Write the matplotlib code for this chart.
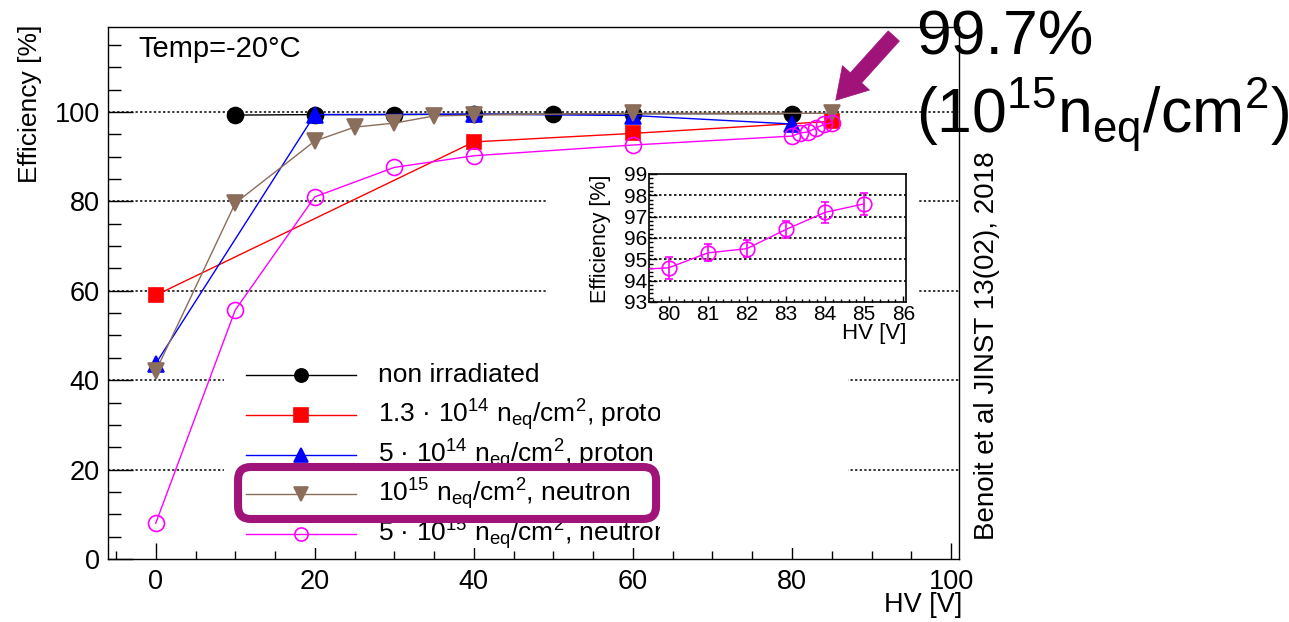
import matplotlib
matplotlib.use("Agg")
import matplotlib.pyplot as plt
from matplotlib.patches import Rectangle, FancyBboxPatch
from matplotlib.lines import Line2D
from matplotlib.ticker import MultipleLocator
from matplotlib.transforms import Bbox, TransformedBbox

plt.rcParams['font.family'] = ['Liberation Sans', 'DejaVu Sans']
plt.rcParams['mathtext.fontset'] = 'custom'
plt.rcParams['mathtext.rm'] = 'Liberation Sans'
plt.rcParams['mathtext.it'] = 'Liberation Sans'
plt.rcParams['mathtext.bf'] = 'Liberation Sans:bold'

# efficiency vs HV, one list per sample
hv_non = [10, 20, 30, 40, 50, 60, 80]
eff_non = [99.3, 99.4, 99.4, 99.5, 99.5, 99.6, 99.6]

hv_p13 = [0, 40, 60, 85]
eff_p13 = [59.0, 93.3, 95.2, 97.9]

hv_p5 = [0, 20, 40, 60, 80]
eff_p5 = [43.7, 99.4, 99.5, 99.2, 97.3]

hv_n15 = [0, 10, 20, 25, 30, 35, 40, 60, 85]
eff_n15 = [42.0, 79.6, 93.5, 96.6, 97.5, 99.1, 99.3, 99.7, 99.7]

hv_n5 = [0, 10, 20, 30, 40, 60, 80, 81, 82, 83, 84, 85]
eff_n5 = [8.0, 55.7, 81.0, 87.6, 90.2, 92.6, 94.6, 95.3, 95.5, 96.4, 97.2, 97.6]
err_n5 = [0, 0, 0, 0, 0, 0, 0.5, 0.4, 0.4, 0.4, 0.5, 0.5]

labels = ["non irradiated",
          r"1.3 · 10$^{14}$ n$_{eq}$/cm$^{2}$, proton",
          r"5 · 10$^{14}$ n$_{eq}$/cm$^{2}$, proton",
          r"10$^{15}$ n$_{eq}$/cm$^{2}$, neutron",
          r"5 · 10$^{15}$ n$_{eq}$/cm$^{2}$, neutron"]

brown = '#8b6d5c'
purple = '#a0147a'
colors = ['black', 'red', 'blue', brown, 'magenta']
markers = ['o', 's', '^', 'v', 'o']
filled = [True, True, True, True, False]

fig = plt.figure(figsize=(12.89, 6.22), dpi=100)
ax = fig.add_axes([0.0838, 0.1013, 0.6602, 0.8553])

ax.set_xlim(-6, 101)
ax.set_ylim(0, 119)
ax.set_xticks(range(0, 101, 20))
ax.set_yticks(range(0, 101, 20))
ax.xaxis.set_minor_locator(MultipleLocator(5))
ax.yaxis.set_minor_locator(MultipleLocator(5))
ax.tick_params(which='both', direction='in', top=False, right=False,
               labelsize=19.5, width=1)
ax.tick_params(axis='y', which='major', length=18, pad=6)
ax.tick_params(axis='y', which='minor', length=9)
ax.tick_params(axis='x', which='major', length=11.5, pad=7)
ax.tick_params(axis='x', which='minor', length=5.8)
for s in ax.spines.values():
    s.set_linewidth(1.0)

for v in [20, 40, 60, 80, 100]:
    ax.axhline(v, color='black', lw=1.1, ls=(0, (1.5, 1.5)), zorder=1)

# white areas under the inset and the legend
ax.add_patch(Rectangle((0.517, 0.389), 0.435, 0.376, transform=ax.transAxes,
                       fc='white', ec='none', zorder=2))
ax.add_patch(Rectangle((0.136, 0.02), 0.734, 0.363, transform=ax.transAxes,
                       fc='white', ec='none', zorder=2))

series = [(hv_non, eff_non), (hv_p13, eff_p13), (hv_p5, eff_p5),
          (hv_n15, eff_n15), (hv_n5, eff_n5)]
msizes = [11.5, 10.5, 11.5, 11.5, 11.5]
for i, (x, y) in enumerate(series):
    ax.plot(x, y, color=colors[i], lw=1.0, marker=markers[i], ms=msizes[i],
            mfc=colors[i] if filled[i] else 'none', mec=colors[i],
            mew=1.2, zorder=3 + i * 0.1)

# legend drawn by hand so the text can be clipped like the original
leg_y = [0.346, 0.271, 0.195, 0.122, 0.047]
clip = TransformedBbox(Bbox([[0, 0], [0.649, 1]]), ax.transAxes)
for i in range(5):
    z = 7 if i == 3 else 4
    ax.add_line(Line2D([0.162, 0.291], [leg_y[i]] * 2, transform=ax.transAxes,
                       color=colors[i], lw=1.0, zorder=z))
    ax.add_line(Line2D([0.227], [leg_y[i]], transform=ax.transAxes,
                       marker=markers[i], ms=9.5, color=colors[i],
                       mfc=colors[i] if filled[i] else 'none', mew=1.2,
                       zorder=z))
    t = ax.text(0.317, leg_y[i], labels[i], transform=ax.transAxes,
                fontsize=19, va='center', ha='left', zorder=z, clip_on=True)
    t.set_clip_box(clip)

box = FancyBboxPatch((0.1528, 0.0752), 0.4912, 0.0977,
                     boxstyle='round,pad=0,rounding_size=0.015',
                     mutation_aspect=1.6, transform=ax.transAxes,
                     fc='white', ec=purple, lw=5.8, zorder=6, clip_on=False)
ax.add_patch(box)

ax.text(0.036, 0.944, 'Temp=-20°C', transform=ax.transAxes, fontsize=21,
        va='baseline')

ax.annotate('', xy=(85.5, 102.6), xytext=(92.8, 117.0),
            arrowprops=dict(arrowstyle='simple,head_length=1.36,head_width=1.64,tail_width=0.68',
                            mutation_scale=16, fc=purple, ec=purple, lw=0.5,
                            shrinkA=0, shrinkB=0),
            annotation_clip=False, zorder=8)

fig.text(0.0233, 0.9598, 'Efficiency [%]', rotation=90, fontsize=19,
         ha='center', va='top')
fig.text(0.7463, 0.0273, 'HV [V]', fontsize=19.5, ha='right', va='center')
fig.text(0.766, 0.4437, 'Benoit et al JINST 13(02), 2018', rotation=90,
         fontsize=20, ha='center', va='center')
fig.text(0.711, 0.9116, '99.7%', fontsize=45, va='baseline')
fig.text(0.711, 0.786, r'(10$^{15}$n$_{eq}$/cm$^{2}$)', fontsize=45,
         va='baseline')

# inset zoom on the 5e15 neutron sample
axin = fig.add_axes([0.5035, 0.5145, 0.1994, 0.2058], zorder=5)
axin.set_xlim(79.5, 86.07)
axin.set_ylim(93, 99)
axin.set_xticks(range(80, 87))
axin.set_yticks(range(93, 100))
axin.xaxis.set_minor_locator(MultipleLocator(0.2))
axin.yaxis.set_minor_locator(MultipleLocator(0.2))
axin.tick_params(which='both', direction='in', top=False, right=False,
                 labelsize=15, width=1)
axin.tick_params(axis='y', which='major', length=5.5, pad=1.5)
axin.tick_params(axis='y', which='minor', length=2.8)
axin.tick_params(axis='x', which='major', length=4, pad=2.5)
axin.tick_params(axis='x', which='minor', length=2)
for s in axin.spines.values():
    s.set_linewidth(1.2)
for v in range(94, 99):
    axin.axhline(v, color='black', lw=1.2, ls=(0, (1.5, 1.5)), zorder=1)
axin.plot(hv_n5, eff_n5, color='magenta', lw=1.0, zorder=3)
ins_hv = [h for h, e in zip(hv_n5, err_n5) if e > 0]
ins_eff = [v for v, e in zip(eff_n5, err_n5) if e > 0]
ins_err = [e for e in err_n5 if e > 0]
axin.errorbar(ins_hv, ins_eff, yerr=ins_err, fmt='o', ms=10.5, mfc='none',
              mec='magenta', mew=1.2, ecolor='magenta', elinewidth=1.2,
              capsize=3, capthick=1.5, zorder=4)
fig.text(0.4655, 0.7186, 'Efficiency [%]', rotation=90, fontsize=15.5,
         ha='center', va='top')
fig.text(0.703, 0.4646, 'HV [V]', fontsize=16, ha='right', va='center')

fig.savefig('out.png', dpi=100)
